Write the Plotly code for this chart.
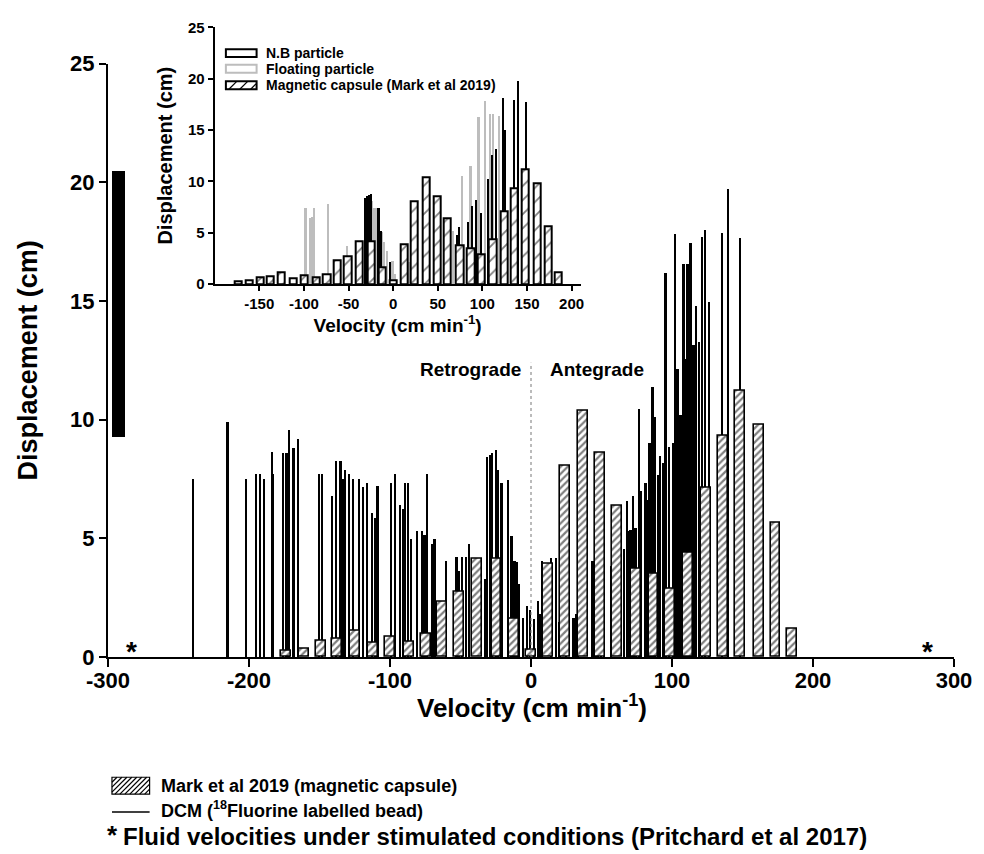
import plotly.graph_objects as go

# ---------------- data ----------------
# Mark et al 2019 (magnetic capsule) histogram
mark_v = [-174, -161, -149, -137.5, -125, -112, -100, -86.3, -74.5, -63.2, -51, -38.1, -24.5, -12.2, 0,
          12.2, 23.9, 36.8, 49, 60.8, 74.5, 86.9, 98.5, 111.5, 124.2, 136, 148, 161.4, 173.4, 185]
mark_h = [0.25, 0.35, 0.67, 0.77, 1.12, 0.6, 0.84, 0.66, 0.98, 2.31, 2.73, 4.15, 4.15, 1.61, 0.32,
          3.92, 8.08, 10.39, 8.59, 6.39, 3.73, 3.52, 2.87, 4.38, 7.13, 9.34, 11.22, 9.79, 5.66, 1.19]

# DCM (18F labelled bead) individual displacements
dcm_v = [-239.6, -215, -201.9, -194.9, -191.8, -189, -183.9, -182.5, -175.7, -173.4, -171.2, -168.2, -165.1,
         -150.6, -147.8, -140.8, -138.2, -134.9, -133.5, -131.6, -128.6, -125.8, -121.6, -118.8, -116,
         -112.7, -110.1, -108.7, -98.9, -96.3, -92.8, -90.9, -89.3, -86.9, -85, -81, -77.1, -75.4, -73.3,
         -69.8, -68.2, -60, -52.7, -51.1, -48.7, -45.7, -43.6, -32.3, -31.4, -29.3, -27.6, -24.8, -23.4,
         -20.6, -16.2, -13.6, -11.5, -10.1, -8.2, -5.6, -3.0, -0.7, 1.9, 5.1, 6.5, 8.0, 14.0, 17.6, 20.4,
         25.1, 30.4, 32.1, 33.3, 43.8, 45.7, 47.3, 49.7, 52, 57.1, 66.1, 68, 69.1, 70.8, 72.6, 74.3, 76.8,
         77.8, 81.3, 82.5, 84.2, 86.4, 87.6, 90.1, 91.6, 93.7, 95.6, 97.9, 100.7, 102.2, 104, 106.3, 108.2,
         110.0, 111.2, 113.2, 115.2, 116.9, 119.3, 121.6, 123.5, 126.3, 135.8, 139.6, 148.5]
dcm_h = [7.52, 9.93, 7.52, 7.72, 7.72, 7.52, 8.64, 7.72, 8.6, 8.62, 9.56, 8.81, 9.19,
         7.72, 7.72, 6.78, 8.28, 8.28, 7.52, 7.9, 7.72, 7.52, 7.52, 7.16, 7.34,
         6.08, 5.87, 7.2, 7.34, 7.72, 6.43, 6.25, 7.34, 7.34, 4.97, 5.31, 5.31, 5.15, 7.72,
         4.78, 4.97, 4.06, 4.22, 3.64, 4.22, 4.22, 4.78, 3.29, 8.42, 8.53, 8.6, 8.74, 7.9,
         7.34, 7.48, 5.1, 4.06, 4.02, 3.08, 1.65, 2.17, 2.0, 1.6, 2.38, 1.84, 4.06, 4.2, 4.2, 1.47,
         1.84, 1.64, 1.84, 3.15, 4.06, 4.76, 4.83, 3.85, 2.9, 3.85, 4.55, 6.57, 5.31, 5.38, 6.78, 5.45, 10.47,
         6.99, 7.34, 6.64, 9.02, 11.4, 10.14, 7.66, 8.46, 8.2, 16.2, 8.85, 9.02, 17.83, 12.15, 10.21, 16.57,
         12.58, 16.57, 17.46, 13.15, 14.82, 13.28, 17.69, 18.01, 14.96, 17.86, 19.72, 17.66]
dcm_w = [0.8, 1.4, 0.9, 0.9, 0.9, 0.9, 1.6, 1.0, 1.2, 1.6, 1.2, 1.4, 1.6,
         0.9, 0.9, 0.9, 1.2, 1.2, 1.2, 1.0, 1.0, 1.0, 1.0, 1.0, 1.0,
         1.0, 1.2, 1.2, 1.2, 1.2, 1.8, 1.8, 1.2, 1.2, 1.2, 1.0, 1.0, 1.2, 1.2,
         1.4, 1.4, 1.2, 1.2, 1.2, 1.0, 1.2, 1.2, 1.2, 1.6, 1.6, 1.6, 1.4, 1.4,
         1.4, 1.2, 1.4, 1.4, 1.4, 1.2, 1.0, 1.0, 0.8, 0.8, 0.9, 0.9, 0.9, 0.9, 0.9, 1.2,
         1.2, 1.4, 1.4, 1.2, 1.4, 1.4, 1.4, 1.2, 1.2, 1.2, 1.2, 1.2, 1.4, 1.4, 1.2, 1.4, 1.2,
         1.4, 1.4, 1.4, 1.4, 1.2, 1.4, 1.4, 1.4, 1.4, 1.4, 1.4, 1.4, 1.4, 1.4, 1.4, 1.4,
         1.6, 1.4, 1.4, 1.6, 1.6, 1.6, 1.4, 1.4, 1.2, 1.0, 1.0, 1.0]

# range bar on the left
range_v = [-292.6]
range_lo = [9.3]
range_hi = [20.5]

# fluid velocities under stimulated conditions (stars)
fluid_v = [-283, 281]

# Inset: N.B particle and floating particle
nb_v = [-32, -29.4, -27.2, -24.7, -16.5, -13.7, -3.7, 71, 74, 84, 88.7, 93.2, 98.7, 106, 110.5,
        115.3, 123, 125.7, 135.3, 139.5, 148.5]
nb_h = [8.38, 8.5, 8.6, 8.7, 7.42, 5.1, 2.1, 4.78, 5.5, 6.03, 7.6, 8.2, 6.9, 10.2, 12.56,
        13.1, 18.1, 14.96, 17.9, 19.7, 17.7]
fl_v = [-98.3, -92.8, -91, -88.4, -73.3, -51.6, -24, -21, -18, -12.5, -10.5, -7, -2.6, -0.8, 1.5,
        18, 67.4, 77, 86.7, 95.5, 102.5, 108.2, 111.5, 118.2]
fl_h = [7.42, 6.45, 6.5, 7.42, 7.74, 3.71, 8.06, 7.42, 7.42, 5.0, 4.1, 3.2, 1.8, 2.26, 0.97,
        2.1, 5.16, 10.5, 11.43, 16.2, 17.83, 16.57, 16.57, 16.35]

main_xticks = [-300, -200, -100, 0, 100, 200, 300]
main_yticks = [0, 5, 10, 15, 20, 25]
inset_xticks = [-150, -100, -50, 0, 50, 100, 150, 200]
inset_yticks = [0, 5, 10, 15, 20, 25]


def labels(vals):
    return [str(v) for v in vals]  # plain hyphen-minus as in the original


# ---------------- layout geometry ----------------
W, H = 984, 854
ML, MR, MT, MB = 108, 22, 20, 197
PW, PH = W - ML - MR, H - MT - MB


def PX(px):
    return (px - ML) / PW


def PY(py):
    return (H - MB - py) / PH


FONT = "Liberation Sans, Arial, sans-serif"


def bold(size):
    return dict(family=FONT, size=size, color="black", weight="bold")


fig = go.Figure()

# ---- main chart ----
fig.add_trace(go.Bar(x=dcm_v, y=dcm_h, width=dcm_w, marker=dict(color="black", line=dict(width=0)),
                     name="DCM", showlegend=False, xaxis="x", yaxis="y"))
fig.add_trace(go.Bar(x=mark_v, y=mark_h, width=7,
                     marker=dict(color="white", line=dict(color="black", width=1.6),
                                 pattern=dict(shape="/", fgcolor="black", bgcolor="white", size=5, solidity=0.45)),
                     name="Mark et al 2019", showlegend=False, xaxis="x", yaxis="y"))
fig.add_trace(go.Bar(x=range_v, y=[h - l for h, l in zip(range_hi, range_lo)], base=range_lo, width=9,
                     marker=dict(color="black", line=dict(width=0)), showlegend=False, xaxis="x", yaxis="y"))

# ---- inset ----
fig.add_trace(go.Bar(x=fl_v, y=fl_h, width=2.0, marker=dict(color="#bdbdbd", line=dict(width=0)),
                     showlegend=False, xaxis="x2", yaxis="y2"))
fig.add_trace(go.Bar(x=nb_v, y=nb_h, width=1.8, marker=dict(color="black", line=dict(width=0)),
                     showlegend=False, xaxis="x2", yaxis="y2"))
fig.add_trace(go.Bar(x=mark_v, y=mark_h, width=8,
                     marker=dict(color="white", line=dict(color="black", width=2),
                                 pattern=dict(shape="/", fgcolor="black", bgcolor="white", size=10, solidity=0.18)),
                     showlegend=False, xaxis="x2", yaxis="y2"))

axis_common = dict(showline=True, linecolor="black", zeroline=False, showgrid=False, ticks="outside",
                   tickcolor="black")

fig.update_layout(
    width=W, height=H, margin=dict(l=ML, r=MR, t=MT, b=MB),
    plot_bgcolor="white", paper_bgcolor="white", barmode="overlay", bargap=0,
    font=dict(family=FONT, color="black"),
    xaxis=dict(**axis_common, range=[-300, 300], domain=[0, 1], anchor="y",
               tickvals=main_xticks, ticktext=labels(main_xticks), ticklabelstandoff=-5,
               linewidth=2, ticklen=8, tickwidth=1.5, tickfont=bold(22)),
    yaxis=dict(**axis_common, range=[0, 25], domain=[0, PY(60)], anchor="x",
               tickvals=main_yticks, ticktext=labels(main_yticks),
               linewidth=2, ticklen=7, tickwidth=1.5, tickfont=bold(22),
               title=dict(text="Displacement (cm)", standoff=25, font=bold(27))),
    xaxis2=dict(**axis_common, range=[-200, 210], domain=[PX(215.7), PX(585)], anchor="y2",
                tickvals=inset_xticks, ticktext=labels(inset_xticks),
                linewidth=2, ticklen=5, tickwidth=1.5, tickfont=bold(15),
                title=dict(text="Velocity (cm min<sup>-1</sup>)", standoff=3, font=bold(19))),
    yaxis2=dict(**axis_common, range=[0, 25], domain=[PY(281.7), PY(23.3)], anchor="x2",
                tickvals=inset_yticks, ticktext=labels(inset_yticks),
                linewidth=2, ticklen=5, tickwidth=1.5, tickfont=bold(15),
                title=dict(text="Displacement (cm)", standoff=10, font=bold(20))),
)

shapes = []
annotations = []

# main x-axis title (placed precisely under the tick labels)
annotations.append(dict(xref="paper", yref="paper", x=PX(536), y=PY(707),
                        text="Velocity (cm min<sup>-1</sup>)", showarrow=False, xanchor="center",
                        yanchor="middle", font=bold(26)))

# dotted divider at zero velocity
shapes.append(dict(type="line", xref="x", yref="y", x0=0, x1=0, y0=0, y1=12.4,
                   line=dict(color="#777777", width=1, dash="dot")))
annotations.append(dict(xref="x", yref="y", x=-6, y=12.1, text="Retrograde", showarrow=False,
                        xanchor="right", yanchor="middle", font=bold(19)))
annotations.append(dict(xref="x", yref="y", x=12, y=12.1, text="Antegrade", showarrow=False,
                        xanchor="left", yanchor="middle", font=bold(19)))

# stars
for v in fluid_v:
    annotations.append(dict(xref="x", yref="y", x=v, y=0, text="*", showarrow=False, xanchor="center",
                            yanchor="middle", yshift=5, font=bold(28)))


def hatch_segments(x0, x1, y0, y1, step):
    segs = []
    c = x0 + y0
    while c <= x1 + y1:
        a = max(x0, c - y1)
        b = min(x1, c - y0)
        if a < b:
            segs.append(((a, c - a), (b, c - b)))
        c += step
    return segs


def hatched_box(x0, x1, y0, y1, step, lw, hw):
    for (ax, ay), (bx, by) in hatch_segments(x0, x1, y0, y1, step):
        shapes.append(dict(type="line", xref="paper", yref="paper", x0=PX(ax), y0=PY(ay), x1=PX(bx), y1=PY(by),
                           line=dict(color="black", width=hw)))
    shapes.append(dict(type="rect", xref="paper", yref="paper", x0=PX(x0), x1=PX(x1), y0=PY(y1), y1=PY(y0),
                       line=dict(color="black", width=lw)))


# inset legend
leg_rows = [49.3, 65.0, 81.7]
leg_text = ["N.B particle", "Floating particle", "Magnetic capsule (Mark et al 2019)"]
shapes.append(dict(type="rect", xref="paper", yref="paper", x0=PX(227), x1=PX(258), y0=PY(leg_rows[0] + 4),
                   y1=PY(leg_rows[0] - 4), line=dict(color="black", width=2), fillcolor="white"))
shapes.append(dict(type="rect", xref="paper", yref="paper", x0=PX(227), x1=PX(258), y0=PY(leg_rows[1] + 4),
                   y1=PY(leg_rows[1] - 4), line=dict(color="#bdbdbd", width=2), fillcolor="white"))
hatched_box(227, 258, leg_rows[2] - 4, leg_rows[2] + 4, 11, 2, 1.2)
for r, t in zip(leg_rows, leg_text):
    annotations.append(dict(xref="paper", yref="paper", x=PX(265), y=PY(r), text=t, showarrow=False,
                            xanchor="left", yanchor="middle", font=bold(14)))

# bottom legend
hatched_box(112, 150, 778, 795, 5, 1.2, 1.2)
annotations.append(dict(xref="paper", yref="paper", x=PX(159), y=PY(786.5),
                        text="Mark et al 2019 (magnetic capsule)", showarrow=False, xanchor="left",
                        yanchor="middle", font=bold(18)))
shapes.append(dict(type="line", xref="paper", yref="paper", x0=PX(112), x1=PX(150), y0=PY(813), y1=PY(813),
                   line=dict(color="black", width=1.5)))
annotations.append(dict(xref="paper", yref="paper", x=PX(159), y=PY(810),
                        text="DCM (<sup>18</sup>Fluorine labelled bead)", showarrow=False, xanchor="left",
                        yanchor="middle", font=bold(18)))
annotations.append(dict(xref="paper", yref="paper", x=PX(113), y=PY(836), text="*", showarrow=False,
                        xanchor="center", yanchor="middle", borderpad=0, font=bold(26)))
annotations.append(dict(xref="paper", yref="paper", x=PX(122), y=PY(838),
                        text="Fluid velocities under stimulated conditions (Pritchard et al 2017)",
                        showarrow=False, xanchor="left", yanchor="middle", borderpad=0, font=bold(24)))

fig.update_layout(shapes=shapes, annotations=annotations)
fig.write_html("out.html")
